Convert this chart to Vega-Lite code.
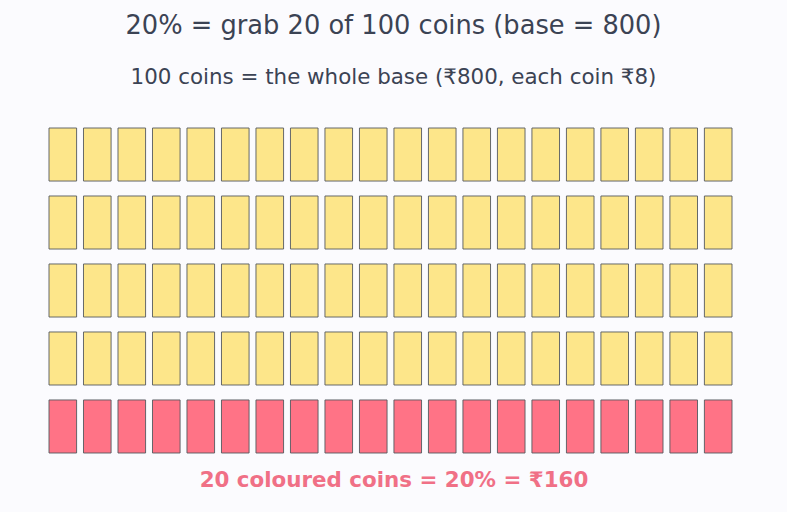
{
  "$schema": "https://vega.github.io/schema/vega-lite/v6.json",
  "autosize": "none",
  "width": 683,
  "height": 325,
  "padding": {"left": 49, "top": 128, "right": 55, "bottom": 59},
  "background": "#fbfbfe",
  "config": {"view": {"stroke": null}, "font": "DejaVu Sans"},
  "title": {
    "text": "20% = grab 20 of 100 coins (base = 800)",
    "subtitle": "100 coins = the whole base (₹800, each coin ₹8)",
    "anchor": "middle",
    "dx": 3,
    "font": "DejaVu Sans",
    "fontSize": 25.7,
    "fontWeight": "normal",
    "color": "#3b4354",
    "subtitleFont": "DejaVu Sans",
    "subtitleFontSize": 21.4,
    "subtitleColor": "#3b4354",
    "subtitlePadding": 27,
    "offset": 38
  },
  "data": {"values": [
    {"c":1,"r":1,"k":"plain"},{"c":2,"r":1,"k":"plain"},{"c":3,"r":1,"k":"plain"},{"c":4,"r":1,"k":"plain"},{"c":5,"r":1,"k":"plain"},{"c":6,"r":1,"k":"plain"},{"c":7,"r":1,"k":"plain"},{"c":8,"r":1,"k":"plain"},{"c":9,"r":1,"k":"plain"},{"c":10,"r":1,"k":"plain"},{"c":11,"r":1,"k":"plain"},{"c":12,"r":1,"k":"plain"},{"c":13,"r":1,"k":"plain"},{"c":14,"r":1,"k":"plain"},{"c":15,"r":1,"k":"plain"},{"c":16,"r":1,"k":"plain"},{"c":17,"r":1,"k":"plain"},{"c":18,"r":1,"k":"plain"},{"c":19,"r":1,"k":"plain"},{"c":20,"r":1,"k":"plain"},
    {"c":1,"r":2,"k":"plain"},{"c":2,"r":2,"k":"plain"},{"c":3,"r":2,"k":"plain"},{"c":4,"r":2,"k":"plain"},{"c":5,"r":2,"k":"plain"},{"c":6,"r":2,"k":"plain"},{"c":7,"r":2,"k":"plain"},{"c":8,"r":2,"k":"plain"},{"c":9,"r":2,"k":"plain"},{"c":10,"r":2,"k":"plain"},{"c":11,"r":2,"k":"plain"},{"c":12,"r":2,"k":"plain"},{"c":13,"r":2,"k":"plain"},{"c":14,"r":2,"k":"plain"},{"c":15,"r":2,"k":"plain"},{"c":16,"r":2,"k":"plain"},{"c":17,"r":2,"k":"plain"},{"c":18,"r":2,"k":"plain"},{"c":19,"r":2,"k":"plain"},{"c":20,"r":2,"k":"plain"},
    {"c":1,"r":3,"k":"plain"},{"c":2,"r":3,"k":"plain"},{"c":3,"r":3,"k":"plain"},{"c":4,"r":3,"k":"plain"},{"c":5,"r":3,"k":"plain"},{"c":6,"r":3,"k":"plain"},{"c":7,"r":3,"k":"plain"},{"c":8,"r":3,"k":"plain"},{"c":9,"r":3,"k":"plain"},{"c":10,"r":3,"k":"plain"},{"c":11,"r":3,"k":"plain"},{"c":12,"r":3,"k":"plain"},{"c":13,"r":3,"k":"plain"},{"c":14,"r":3,"k":"plain"},{"c":15,"r":3,"k":"plain"},{"c":16,"r":3,"k":"plain"},{"c":17,"r":3,"k":"plain"},{"c":18,"r":3,"k":"plain"},{"c":19,"r":3,"k":"plain"},{"c":20,"r":3,"k":"plain"},
    {"c":1,"r":4,"k":"plain"},{"c":2,"r":4,"k":"plain"},{"c":3,"r":4,"k":"plain"},{"c":4,"r":4,"k":"plain"},{"c":5,"r":4,"k":"plain"},{"c":6,"r":4,"k":"plain"},{"c":7,"r":4,"k":"plain"},{"c":8,"r":4,"k":"plain"},{"c":9,"r":4,"k":"plain"},{"c":10,"r":4,"k":"plain"},{"c":11,"r":4,"k":"plain"},{"c":12,"r":4,"k":"plain"},{"c":13,"r":4,"k":"plain"},{"c":14,"r":4,"k":"plain"},{"c":15,"r":4,"k":"plain"},{"c":16,"r":4,"k":"plain"},{"c":17,"r":4,"k":"plain"},{"c":18,"r":4,"k":"plain"},{"c":19,"r":4,"k":"plain"},{"c":20,"r":4,"k":"plain"},
    {"c":1,"r":5,"k":"coloured"},{"c":2,"r":5,"k":"coloured"},{"c":3,"r":5,"k":"coloured"},{"c":4,"r":5,"k":"coloured"},{"c":5,"r":5,"k":"coloured"},{"c":6,"r":5,"k":"coloured"},{"c":7,"r":5,"k":"coloured"},{"c":8,"r":5,"k":"coloured"},{"c":9,"r":5,"k":"coloured"},{"c":10,"r":5,"k":"coloured"},{"c":11,"r":5,"k":"coloured"},{"c":12,"r":5,"k":"coloured"},{"c":13,"r":5,"k":"coloured"},{"c":14,"r":5,"k":"coloured"},{"c":15,"r":5,"k":"coloured"},{"c":16,"r":5,"k":"coloured"},{"c":17,"r":5,"k":"coloured"},{"c":18,"r":5,"k":"coloured"},{"c":19,"r":5,"k":"coloured"},{"c":20,"r":5,"k":"coloured"}
  ]},
  "mark": {"type": "bar", "stroke": "#555a5f", "strokeWidth": 1, "strokeOpacity": 0.9},
  "encoding": {
    "x": {
      "field": "c", "type": "ordinal",
      "scale": {"paddingInner": 0.2, "paddingOuter": 0},
      "axis": {
        "title": "20 coloured coins = 20% = ₹160",
        "titleFont": "DejaVu Sans",
        "titleFontSize": 21.4,
        "titleFontWeight": "bold",
        "titleColor": "#f07086",
        "titlePadding": 16,
        "titleX": 344.5,
        "labels": false, "ticks": false, "domain": false, "grid": false
      }
    },
    "y": {
      "field": "r", "type": "ordinal",
      "scale": {"paddingInner": 0.22, "paddingOuter": 0},
      "axis": null
    },
    "color": {
      "field": "k", "type": "nominal",
      "scale": {"domain": ["plain", "coloured"], "range": ["#fde68a", "#ff7386"]},
      "legend": null
    }
  }
}
